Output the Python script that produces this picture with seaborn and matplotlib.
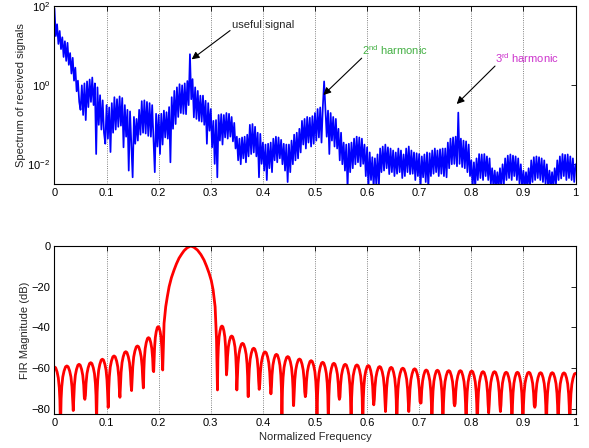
import numpy as np
import matplotlib
matplotlib.use('Agg')
import matplotlib.pyplot as plt
from matplotlib.ticker import MultipleLocator, NullLocator, FixedLocator
import seaborn as sns

# ---------------------------------------------------------------------------
# Data
# ---------------------------------------------------------------------------

# received spectrum, log10 of the level, one value every 0.0025 of normalized freq
SPEC_STEP = 0.0025
SPEC_LOG10 = [
    1.95, 1.25, 1.55, 1.05, 1.38, 0.92, 1.22, 0.72, 1.12, 0.62, 1.08, 0.52, 0.82, 0.3, 0.7, 0.12, 0.45, -0.15, 0.12, -0.42,
    -0.62, 0.0, -0.75, 0.05, -0.88, 0.1, -0.55, 0.15, -0.42, 0.2, -0.5, 0.05, -1.74, -0.05, -1.0, -0.25, -1.12, -0.38, -1.2, -1.48,
    -0.5, -1.35, -0.56, -1.69, -0.45, -1.2, -0.3, -1.12, -0.35, -1.05, -0.28, -1.02, -0.32, -1.57, -0.5, -1.3, -0.62, -2.16, -0.66, -1.5,
    -2.33, -0.8, -1.48, -0.85, -1.4, -0.62, -1.25, -0.4, -1.2, -0.38, -1.22, -0.42, -1.28, -0.45, -1.3, -0.5, -1.35, -2.2, -0.72, -1.55,
    -0.75, -1.74, -0.72, -1.5, -0.64, -1.32, -0.68, -1.35, -0.55, -1.95, -0.3, -1.1, -0.14, -0.98, -0.05, -0.8, 0.03, -0.7, 0.0, -0.72,
    0.05, -0.73, 0.11, -0.5, 0.79, -0.35, 0.16, -0.81, -0.05, -0.85, -0.14, -0.9, -0.26, -0.92, -0.26, -1.0, -0.39, -1.48, -0.45, -1.15,
    -0.6, -1.57, -0.9, -1.99, -0.88, -2.33, -0.75, -1.4, -0.73, -1.5, -0.75, -1.32, -0.7, -1.35, -0.72, -1.3, -0.8, -1.42, -0.95, -1.6,
    -1.3, -1.9, -1.35, -2.0, -1.32, -1.85, -1.3, -1.95, -1.25, -1.8, -1.0, -1.74, -0.98, -1.7, -1.05, -1.8, -1.2, -2.33, -1.23, -1.99,
    -1.45, -2.16, -1.5, -2.4, -1.48, -2.1, -1.45, -2.2, -1.35, -1.9, -1.3, -1.95, -1.32, -1.85, -1.38, -2.0, -1.48, -2.16, -1.5, -2.45,
    -1.5, -2.2, -1.4, -2.0, -1.25, -1.9, -1.2, -1.85, -1.1, -1.7, -0.9, -1.5, -0.85, -1.6, -0.8, -1.45, -0.82, -1.55, -0.78, -1.48,
    -0.7, -1.4, -0.6, -1.32, -0.56, -1.45, -0.55, 0.1, -0.58, -1.3, -0.64, -1.74, -0.7, -1.4, -0.8, -1.55, -0.85, -1.6, -1.1, -1.9,
    -1.2, -2.0, -1.45, -2.16, -1.5, -2.6, -1.48, -2.2, -1.45, -2.1, -1.35, -2.0, -1.3, -1.95, -1.32, -2.05, -1.35, -1.99, -1.5, -2.3,
    -1.57, -2.6, -1.7, -2.4, -1.82, -2.6, -1.85, -2.5, -1.75, -2.6, -1.6, -2.2, -1.55, -2.16, -1.5, -2.1, -1.57, -2.25, -1.6, -2.2,
    -1.65, -2.3, -1.7, -2.24, -1.6, -2.2, -1.65, -2.35, -1.75, -2.3, -1.6, -2.2, -1.55, -2.25, -1.65, -2.24, -1.7, -2.4, -1.72, -2.3,
    -1.74, -2.6, -1.8, -2.33, -1.75, -2.45, -1.7, -2.6, -1.72, -2.3, -1.65, -2.24, -1.6, -2.2, -1.65, -2.3, -1.62, -2.24, -1.6, -2.3,
    -1.6, -2.33, -1.45, -2.1, -1.35, -2.0, -1.32, -1.99, -1.3, -2.05, -0.69, -1.99, -1.35, -2.07, -1.4, -2.1, -1.42, -2.2, -1.5, -2.3,
    -1.9, -2.6, -1.95, -2.6, -1.85, -2.4, -1.74, -2.35, -1.75, -2.4, -1.74, -2.3, -1.8, -2.4, -1.85, -2.5, -2.1, -2.6, -2.16, -2.6,
    -2.2, -2.6, -2.1, -2.6, -2.0, -2.5, -1.85, -2.4, -1.78, -2.35, -1.75, -2.4, -1.78, -2.3, -1.8, -2.4, -1.85, -2.5, -2.0, -2.6,
    -2.16, -2.6, -2.2, -2.6, -2.1, -2.6, -1.9, -2.45, -1.82, -2.4, -1.8, -2.35, -1.82, -2.4, -1.85, -2.45, -1.9, -2.5, -2.0, -2.6,
    -2.16, -2.6, -2.2, -2.6, -2.1, -2.5, -1.9, -2.4, -1.8, -2.36, -1.74, -2.3, -1.76, -2.4, -1.75, -2.35, -1.8, -2.4, -1.85, -2.45,
    -2.0,
]

# FIR response: null positions / depths (dB) left and right of the passband
NULL_F = [0.0115, 0.036, 0.0583, 0.0808, 0.103, 0.1256, 0.148, 0.1705, 0.1904, 0.2077,
          0.3128, 0.3301, 0.35, 0.3718, 0.3929, 0.4154, 0.4365, 0.459, 0.4814, 0.5038,
          0.5256, 0.5468, 0.5692, 0.5917, 0.6128, 0.6353, 0.657, 0.680, 0.7026, 0.7244,
          0.7455, 0.768, 0.790, 0.8115, 0.8333, 0.8558, 0.878, 0.899, 0.9218, 0.944,
          0.9667, 0.989]
NULL_DB = [-90, -80.8, -75.3, -90, -79.3, -74.3, -71, -69.7, -61.7, -60.9,
           -70.7, -63.3, -70.7, -74, -70.4, -72.6, -90, -78.4, -74, -90,
           -90, -75.3, -90, -90, -78, -81.3, -90, -81.3, -77.2, -90,
           -90, -78.5, -90, -90, -82, -81.3, -90, -90, -79.2, -90,
           -90, -90]
MAIN_GAP = 9  # passband sits between NULL_F[9] and NULL_F[10]

# sidelobe peak levels (dB), one per gap between nulls (passband excluded)
SIDELOBE_DB = [-58.9, -58.1, -57.3, -55.6, -54.0, -51.9, -49.1, -45.0, -39.6,
               -39.3, -44.2, -47.8, -50.2, -52.0, -53.2, -54.3, -55.5, -56.3, -57.1,
               -57.6, -58.1, -58.4, -58.7, -59.2, -59.6, -60.0, -60.3, -60.9, -61.0,
               -61.2, -61.2, -61.4, -61.7, -61.7, -62.0, -62.0, -62.0, -62.2, -62.2,
               -62.3]
EDGE_DB = [-59.4, -62.5]  # half lobes at f = 0 and f = 1

# passband (main lobe) shape
MAIN_F = [0.2103, 0.2135, 0.2165, 0.22, 0.2245, 0.2295, 0.234, 0.239, 0.244, 0.2487,
          0.2545, 0.2615, 0.2675, 0.2744, 0.281, 0.287, 0.292, 0.2968, 0.301, 0.3045,
          0.3083, 0.311]
MAIN_DB = [-38, -29.8, -25, -20, -15.5, -11.8, -8.8, -6, -4, -2.3,
           -0.9, 0, -0.6, -2, -4.2, -6.9, -10, -13.4, -17, -21.6,
           -29.8, -46]

# shape of one sidelobe: position inside lobe, dB below its peak
LOBE_T = [0.02, 0.05, 0.10, 0.18, 0.28, 0.40, 0.50, 0.60, 0.72, 0.82, 0.90, 0.95, 0.98]
LOBE_DB = [-24.0, -16.1, -10.2, -5.4, -2.5, -0.4, 0.0, -0.4, -2.5, -5.4, -10.2, -16.1, -24.0]

XTICKS = [0, 0.1, 0.2, 0.3, 0.4, 0.5, 0.6, 0.7, 0.8, 0.9, 1]
XTICKLABELS = ['0', '0.1', '0.2', '0.3', '0.4', '0.5', '0.6', '0.7', '0.8', '0.9', '1']


def lobe_points(a, b, peak, floor_a, floor_b):
    pts = []
    for t, d in zip(LOBE_T, LOBE_DB):
        v = peak + d
        if v > (floor_a if t < 0.5 else floor_b):
            pts.append((a + t * (b - a), v))
    return pts


def fir_curve():
    pts = [(0.0, EDGE_DB[0])]
    pts += [p for p in lobe_points(-NULL_F[0], NULL_F[0], EDGE_DB[0],
                                   NULL_DB[0], NULL_DB[0]) if p[0] > 0]
    pts.append((NULL_F[0], NULL_DB[0]))
    j = 0
    for i in range(len(NULL_F) - 1):
        if i == MAIN_GAP:
            pts += list(zip(MAIN_F, MAIN_DB))
        else:
            pts += lobe_points(NULL_F[i], NULL_F[i + 1], SIDELOBE_DB[j],
                               NULL_DB[i], NULL_DB[i + 1])
            j += 1
        pts.append((NULL_F[i + 1], NULL_DB[i + 1]))
    last = NULL_F[-1]
    pts += [p for p in lobe_points(last, 2 - last, EDGE_DB[1],
                                   NULL_DB[-1], NULL_DB[-1]) if p[0] < 1]
    pts.append((1.0, EDGE_DB[1]))
    f, db = zip(*pts)
    return np.array(f), np.array(db)


# ---------------------------------------------------------------------------
# Figure
# ---------------------------------------------------------------------------

sns.set_style('white')
plt.rcParams['font.family'] = ['Liberation Sans', 'DejaVu Sans']
plt.rcParams['mathtext.fontset'] = 'custom'
plt.rcParams['mathtext.rm'] = 'Liberation Sans'
plt.rcParams['font.size'] = 8

fig = plt.figure(figsize=(5.89, 4.48), dpi=100)
ax1 = fig.add_axes([0.0925, 0.5893, 0.8846, 0.3962])
ax2 = fig.add_axes([0.0925, 0.0759, 0.8846, 0.375])

spec_f = np.arange(len(SPEC_LOG10)) * SPEC_STEP
spec_v = 10.0 ** np.array(SPEC_LOG10)
sns.lineplot(x=spec_f, y=spec_v, ax=ax1, color='#0000ff', lw=1.25,
             estimator=None, sort=False)
ax1.set_yscale('log')
ax1.set_ylim(10 ** -2.5, 100)
ax1.yaxis.set_major_locator(FixedLocator([1e-2, 1e0, 1e2]))
ax1.yaxis.set_minor_locator(NullLocator())
ax1.set_ylabel('Spectrum of received signals', labelpad=1)

fir_f, fir_db = fir_curve()
sns.lineplot(x=fir_f, y=fir_db, ax=ax2, color='#ff0000', lw=2.0,
             estimator=None, sort=False)
ax2.set_ylim(-82.5, 0)
ax2.yaxis.set_major_locator(MultipleLocator(20))
ax2.set_ylabel('FIR Magnitude (dB)', labelpad=1)
ax2.set_xlabel('Normalized Frequency', labelpad=2.5)

for ax in (ax1, ax2):
    ax.set_xlim(0, 1)
    ax.set_xticks(XTICKS)
    ax.set_xticklabels(XTICKLABELS)
    ax.grid(axis='x', linestyle=':', color='0.35', lw=0.6)
    ax.grid(axis='y', visible=False)
    ax.tick_params(direction='in', length=3.5, width=0.6, top=True, right=True,
                   labelsize=8, pad=3, colors='black')
    for s in ax.spines.values():
        s.set_visible(True)
        s.set_color('black')
        s.set_linewidth(0.8)
    ax.yaxis.label.set_size(8)
    ax.xaxis.label.set_size(8)

# annotations (text + arrows)
arrow = dict(arrowstyle='-|>', color='black', lw=0.8, mutation_scale=11,
             shrinkA=0, shrinkB=0)
ax1.annotate('', xy=(0.2633, 10 ** 0.661), xytext=(0.337, 10 ** 1.39), arrowprops=arrow)
ax1.text(0.3407, 10 ** 1.455, 'useful signal', ha='left', va='baseline', fontsize=8)
ax1.annotate('', xy=(0.516, 10 ** -0.244), xytext=(0.5896, 10 ** 0.69), arrowprops=arrow)
ax1.text(0.5896, 10 ** 0.758, r'2$^{\rm nd}$ harmonic', ha='left', va='baseline',
         fontsize=8, color='#44b044')
ax1.annotate('', xy=(0.772, 10 ** -0.472), xytext=(0.8455, 10 ** 0.49), arrowprops=arrow)
ax1.text(0.8455, 10 ** 0.56, r'3$^{\rm rd}$ harmonic', ha='left', va='baseline',
         fontsize=8, color='#cc33cc')

fig.savefig('out.png', dpi=100)
